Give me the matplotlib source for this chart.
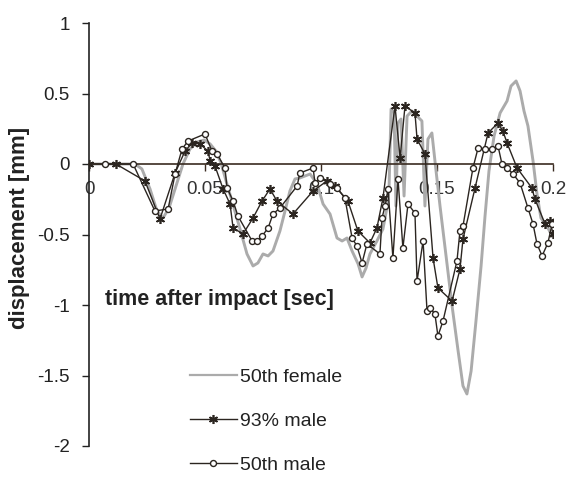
import matplotlib
matplotlib.use("Agg")
import matplotlib.pyplot as plt

# ---------------- data ----------------
t_female = [0, 0.0198, 0.0228, 0.0263, 0.0293, 0.0319, 0.0345, 0.0375, 0.0405, 0.0435,
            0.0466, 0.0496, 0.0522, 0.0547, 0.0569, 0.0591, 0.0616, 0.0651, 0.0681, 0.0707,
            0.0728, 0.0750, 0.0772, 0.0793, 0.0823, 0.0845, 0.0866, 0.0888, 0.0909, 0.0953,
            0.0983, 0.1009, 0.1039, 0.1069, 0.1091, 0.1112, 0.1134, 0.1160, 0.1177, 0.1194,
            0.1211, 0.1241, 0.1267, 0.1284, 0.1293, 0.1302, 0.1315, 0.1323, 0.1332, 0.1345,
            0.1358, 0.1371, 0.1392, 0.1418, 0.1435, 0.1448, 0.1461, 0.1478, 0.1496, 0.1513,
            0.1539, 0.1565, 0.1591, 0.1612, 0.1629, 0.1647, 0.1668, 0.1690, 0.1707, 0.1724,
            0.1746, 0.1772, 0.1802, 0.1819, 0.1841, 0.1858, 0.1875, 0.1892, 0.1914, 0.1931,
            0.1948, 0.1974, 0.1996]
y_female = [0, 0, -0.035, -0.177, -0.333, -0.383, -0.312, -0.156, 0, 0.106,
            0.156, 0.170, 0.142, 0.092, 0.007, -0.121, -0.262, -0.461, -0.638, -0.723,
            -0.702, -0.638, -0.652, -0.617, -0.475, -0.333, -0.191, -0.106, -0.099, -0.071,
            -0.142, -0.284, -0.355, -0.525, -0.546, -0.525, -0.617, -0.709, -0.801, -0.738,
            -0.638, -0.546, -0.461, -0.312, -0.191, 0.390, 0.362, -0.298, 0.291, 0.319,
            -0.227, 0.340, 0.376, 0.333, 0.305, -0.298, 0.177, 0.220, -0.050, -0.298,
            -0.652, -1.007, -1.326, -1.574, -1.631, -1.468, -1.113, -0.723, -0.369, -0.050,
            0.199, 0.362, 0.447, 0.553, 0.589, 0.518, 0.376, 0.270, 0.021, -0.213,
            -0.383, -0.440, -0.511]

t_male93 = [0, 0.0116, 0.0241, 0.0306, 0.0371, 0.0414, 0.0444, 0.0478, 0.0513, 0.0522,
            0.0543, 0.0578, 0.0608, 0.0621, 0.0664, 0.0707, 0.0746, 0.0780, 0.0810, 0.0879,
            0.0966, 0.1026, 0.1060, 0.1116, 0.1159, 0.1211, 0.1241, 0.1267, 0.1319, 0.1341,
            0.1362, 0.1405, 0.1414, 0.1448, 0.1483, 0.1504, 0.1565, 0.1599, 0.1612, 0.1664,
            0.1720, 0.1763, 0.1784, 0.1802, 0.1845, 0.1909, 0.1922, 0.1966, 0.1987, 0.2000]
y_male93 = [0, 0, -0.120, -0.390, -0.064, 0.092, 0.149, 0.142, 0.092, 0.021,
            -0.014, -0.177, -0.284, -0.454, -0.496, -0.383, -0.262, -0.177, -0.262, -0.355,
            -0.191, -0.120, -0.156, -0.262, -0.475, -0.560, -0.454, -0.241, 0.411, 0.043,
            0.411, 0.362, 0.177, 0.071, -0.667, -0.879, -0.972, -0.745, -0.532, -0.170,
            0.220, 0.291, 0.234, 0.149, -0.028, -0.170, -0.248, -0.426, -0.404, -0.496]

t_male50 = [0.0069, 0.0190, 0.0284, 0.0341, 0.0371, 0.0401, 0.0427, 0.0500, 0.0530, 0.0552,
            0.0586, 0.0595, 0.0621, 0.0642, 0.0703, 0.0724, 0.0746, 0.0772, 0.0793, 0.0823,
            0.0897, 0.0909, 0.0966, 0.0974, 0.0996, 0.1039, 0.1069, 0.1103, 0.1134, 0.1155,
            0.1177, 0.1198, 0.1254, 0.1263, 0.1276, 0.1289, 0.1310, 0.1332, 0.1353, 0.1375,
            0.1405, 0.1414, 0.1440, 0.1457, 0.1470, 0.1491, 0.1504, 0.1526, 0.1586, 0.1599,
            0.1612, 0.1655, 0.1677, 0.1707, 0.1737, 0.1763, 0.1780, 0.1802, 0.1828, 0.1858,
            0.1892, 0.1914, 0.1931, 0.1953, 0.1978, 0.1996]
y_male50 = [0, 0, -0.333, -0.319, -0.071, 0.106, 0.163, 0.213, 0.092, 0.071,
            -0.028, -0.170, -0.262, -0.369, -0.546, -0.546, -0.511, -0.454, -0.355, -0.312,
            -0.156, -0.064, -0.028, -0.135, -0.099, -0.142, -0.170, -0.241, -0.525, -0.582,
            -0.702, -0.567, -0.638, -0.383, -0.298, -0.177, -0.667, -0.106, -0.596, -0.284,
            -0.348, -0.830, -0.546, -1.043, -1.021, -1.064, -1.220, -1.113, -0.688, -0.475,
            -0.440, -0.028, 0.113, 0.106, 0.106, 0.128, 0, -0.028, -0.071, -0.135,
            -0.312, -0.426, -0.567, -0.652, -0.560, -0.426]

x_ticks = [0, 0.05, 0.1, 0.15, 0.2]
x_tick_labels = ["0", "0.05", "0.1", "0.15", "0.2"]
y_ticks = [-2, -1.5, -1, -0.5, 0, 0.5, 1]
y_tick_labels = ["-2", "-1.5", "-1", "-0.5", "0", "0.5", "1"]
series_labels = ["50th female", "93% male", "50th male"]

# ---------------- figure ----------------
plt.rcParams['font.family'] = ['Liberation Sans', 'DejaVu Sans']
W, H = 568, 479
fig = plt.figure(figsize=(W / 100, H / 100), dpi=100)
ax = fig.add_axes([89 / W, 1 - 446 / H, (553 - 89) / W, (446 - 23) / H])
ax.set_xlim(0, 0.2)
ax.set_ylim(-2, 1)

axis_col = '#3a2b20'
dark = '#2b2520'
ax.plot(t_female, y_female, color='#ababab', lw=2.1, label=series_labels[0], zorder=2)
ax.plot(t_male93, y_male93, color=dark, lw=1.0, marker=(6, 2, 0), ms=6.5,
        mew=1.2, mec=dark, label=series_labels[1], zorder=3)
ax.plot(t_male50, y_male50, color=dark, lw=1.0, marker='o', ms=4.3,
        mfc='white', mec=dark, mew=1.0, label=series_labels[2], zorder=4)

for s in ['top', 'right']:
    ax.spines[s].set_visible(False)
ax.spines['bottom'].set_position(('data', 0))
ax.spines['bottom'].set_color(axis_col)
ax.spines['bottom'].set_linewidth(1.2)
ax.spines['left'].set_color('#222222')
ax.spines['left'].set_linewidth(1.2)

ax.set_xticks(x_ticks)
ax.set_xticklabels(x_tick_labels)
ax.set_yticks(y_ticks)
ax.set_yticklabels(y_tick_labels)
ax.tick_params(axis='x', direction='out', length=5, width=1, colors=axis_col,
               labelcolor='#333333', labelsize=13.5, pad=7)
ax.tick_params(axis='y', direction='out', length=5, width=1, colors='#222222',
               labelcolor='#222222', labelsize=13.5, pad=9)

fig.text(105 / W, 1 - 300 / H, 'time after impact [sec]', fontsize=15.5,
         fontweight='bold', va='center', ha='left', color='#222222')
fig.text(20 / W, 1 - 228 / H, 'displacement [mm]', fontsize=16,
         fontweight='bold', va='center', ha='center', rotation=90, color='#222222')

leg = ax.legend(loc='upper left', bbox_to_anchor=((190 - 89) / (553 - 89), (446 - 368) / (446 - 23)),
                frameon=False, fontsize=14, handlelength=2.4, handletextpad=0.15,
                labelspacing=1.37, borderpad=0, borderaxespad=0)
for txt in leg.get_texts():
    txt.set_color('#222222')
leg.get_lines()[0].set_linewidth(1.6)

fig.savefig('out.png', dpi=100, facecolor='white')
